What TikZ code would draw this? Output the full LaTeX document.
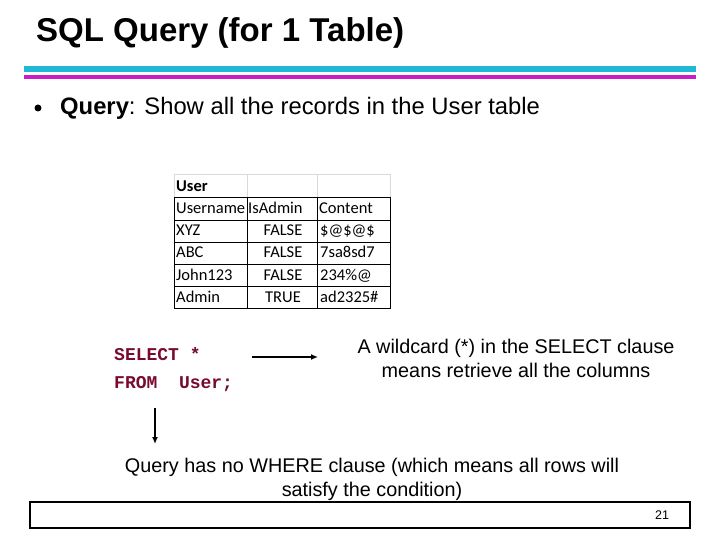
\documentclass[tikz,border=0pt]{standalone}
\usepackage{fontspec}
\usetikzlibrary{arrows.meta}
\setmainfont{Liberation Sans}
\newfontfamily\calfont{Carlito}
\newfontfamily\codefont{Liberation Mono}
\definecolor{barc}{RGB}{32,184,214}
\definecolor{barm}{RGB}{200,30,200}
\definecolor{codec}{RGB}{120,10,50}
\begin{document}
\begin{tikzpicture}[x=1pt,y=-1pt,
  cell/.style={font=\calfont\fontsize{16.5}{18}\selectfont,inner sep=1pt},
  txt/.style={font=\fontsize{19.8}{24}\selectfont,align=center},
  codetxt/.style={font=\codefont\bfseries\fontsize{18}{28}\selectfont,text=codec,align=left},
  arr/.style={-{Latex[length=7pt,width=6pt]},line width=1.3pt}]
\useasboundingbox (0,0) rectangle (720,540);
\node[anchor=west,font=\bfseries\fontsize{33}{36}\selectfont,inner sep=0pt] (title) at (36,33) {SQL Query (for 1 Table)};
\fill[barc] (24,66) rectangle (696,72);
\fill[barm] (24,75) rectangle (696,79);
\fill (38,108) circle (3.5pt);
\node[anchor=west,font=\fontsize{23.8}{26}\selectfont,inner sep=0pt] (q) at (60,108) {\textbf{Query}: Show all the records in the User table};
% table
\draw[gray!30] (174,174) rectangle (390,197) (247,174) -- (247,197) (317,174) -- (317,197);
\draw[black] (174,197) rectangle (390,308);
\foreach \y in {220,242,264,286} \draw (174,\y) -- (390,\y);
\draw (247,197) -- (247,308) (317,197) -- (317,308);
\node[cell,anchor=base west] (tu) at (175,192) {\bfseries User};
\node[cell,anchor=base west] (h1) at (175,214) {Username};
\node[cell,anchor=base west] (h2) at (247,214) {IsAdmin};
\node[cell,anchor=base west] (h3) at (318,214) {Content};
\foreach \y/\a/\b/\c in {236/XYZ/FALSE/\$@\$@\$,258/ABC/FALSE/7sa8sd7,280/John123/FALSE/234\%@,302/Admin/TRUE/ad2325\#}{
  \node[cell,anchor=base west] at (175,\y) {\a};
  \node[cell,anchor=base] at (283,\y) {\b};
  \node[cell,anchor=base west] at (319,\y) {\c};
}
\node[codetxt,anchor=west,inner sep=0pt] (sql) at (114,370) {SELECT *\\FROM\ \ User;};
\coordinate (a1) at (252,357);
\coordinate (a2) at (318,357);
\coordinate (d1) at (155,408);
\coordinate (d2) at (155,444);
\node[txt] (wild) at (516,358) {A wildcard (*) in the SELECT clause\\means retrieve all the columns};
\draw[arr] (a1) -- (a2);
\node[txt] (where) at (372,479) {Query has no WHERE clause (which means all rows will\\satisfy the condition)};
\draw[arr] (d1) -- (d2);
\draw[line width=1.2pt] (30,502) rectangle (690,528);
\node[font=\fontsize{12.5}{13}\selectfont] (pg) at (662,515) {21};
\end{tikzpicture}
\end{document}
